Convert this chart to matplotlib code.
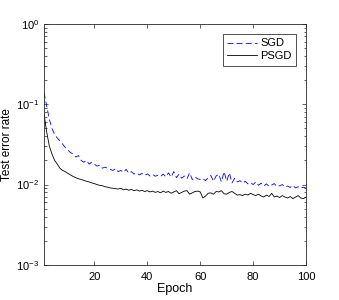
import numpy as np
import matplotlib
matplotlib.use("Agg")
import matplotlib.pyplot as plt
from matplotlib.ticker import LogLocator, FixedLocator

plt.rcParams['font.family'] = ['Liberation Sans', 'DejaVu Sans']
plt.rcParams['mathtext.fontset'] = 'custom'
plt.rcParams['mathtext.rm'] = 'Liberation Sans'
plt.rcParams['mathtext.it'] = 'Liberation Sans:italic'

# test error rate per epoch
epochs = np.arange(1, 101)

sgd = [
    0.140, 0.095, 0.065, 0.050, 0.042, 0.038, 0.035, 0.032, 0.029, 0.027,
    0.025, 0.024, 0.022, 0.023, 0.020, 0.019, 0.020, 0.018, 0.019, 0.018,
    0.017, 0.0175, 0.016, 0.0165, 0.016, 0.0155, 0.015, 0.0158, 0.0145, 0.015,
    0.0142, 0.0155, 0.0138, 0.0145, 0.0135, 0.014, 0.0132, 0.0138, 0.0130, 0.0136,
    0.0128, 0.0134, 0.0127, 0.0131, 0.0126, 0.0135, 0.0125, 0.0140, 0.0124, 0.0145,
    0.0122, 0.0135, 0.0120, 0.0128, 0.0118, 0.0140, 0.0115, 0.0125, 0.0118, 0.0116,
    0.0119, 0.0112, 0.0122, 0.0130, 0.0110, 0.0128, 0.0135, 0.0108, 0.0145, 0.0110,
    0.0140, 0.0105, 0.0120, 0.0108, 0.0112, 0.0104, 0.0110, 0.0102, 0.0106, 0.0100,
    0.0108, 0.0098, 0.0104, 0.0096, 0.0102, 0.0095, 0.0099, 0.0103, 0.0094, 0.0097,
    0.0100, 0.0093, 0.0096, 0.0092, 0.0098, 0.0091, 0.0094, 0.0090, 0.0093, 0.0090,
]

psgd = [
    0.075, 0.045, 0.030, 0.024, 0.020, 0.018, 0.016, 0.015, 0.0145, 0.0138,
    0.0132, 0.0126, 0.0122, 0.0118, 0.0116, 0.0113, 0.0110, 0.0108, 0.0105, 0.0103,
    0.0100, 0.0098, 0.0097, 0.0094, 0.0093, 0.0091, 0.0090, 0.0089, 0.0088, 0.0090,
    0.0086, 0.0088, 0.0085, 0.0087, 0.0084, 0.0086, 0.0083, 0.0085, 0.0082, 0.0084,
    0.0081, 0.0083, 0.0080, 0.0082, 0.0079, 0.0083, 0.0080, 0.0082, 0.0078, 0.0081,
    0.0084, 0.0077, 0.0080, 0.0083, 0.0084, 0.0076, 0.0079, 0.0082, 0.0083, 0.0081,
    0.0068, 0.0072, 0.0078, 0.0079, 0.0076, 0.0082, 0.0081, 0.0084, 0.0077, 0.0076,
    0.0080, 0.0082, 0.0078, 0.0074, 0.0075, 0.0073, 0.0076, 0.0074, 0.0078, 0.0075,
    0.0073, 0.0076, 0.0072, 0.0070, 0.0074, 0.0071, 0.0078, 0.0070, 0.0072, 0.0069,
    0.0073, 0.0070, 0.0068, 0.0071, 0.0067, 0.0070, 0.0073, 0.0068, 0.0067, 0.0070,
]

xticks = [20, 40, 60, 80, 100]

fig = plt.figure(figsize=(3.39, 3.0), dpi=100)
ax = fig.add_axes([0.130, 0.117, 0.773, 0.803])

ax.plot(epochs, sgd, color=(0, 0, 1), linestyle=(0, (7, 4)), linewidth=0.6, label='SGD')
ax.plot(epochs, psgd, color='black', linestyle='-', linewidth=0.6, label='PSGD')

ax.set_yscale('log')
ax.set_xlim(1, 100)
ax.set_ylim(1e-3, 1e0)
ax.xaxis.set_major_locator(FixedLocator(xticks))
ax.yaxis.set_major_locator(LogLocator(base=10, numticks=10))
ax.yaxis.set_minor_locator(LogLocator(base=10, subs=np.arange(2, 10), numticks=20))

axis_col = '#262626'
for s in ax.spines.values():
    s.set_color(axis_col)
    s.set_linewidth(0.6)
ax.tick_params(which='both', direction='in', top=True, right=True,
               colors=axis_col, labelsize=8, width=0.5)
ax.tick_params(which='major', length=3)
ax.tick_params(which='minor', length=1.8)
ax.tick_params(axis='x', pad=5)
for lbl in ax.get_xticklabels() + ax.get_yticklabels():
    lbl.set_color('black')

ax.set_xlabel('Epoch', fontsize=9, labelpad=1)
ax.set_ylabel('Test error rate', fontsize=8.5, labelpad=2)

leg = ax.legend(loc='upper right', fontsize=8, handlelength=2.7, frameon=True,
                fancybox=False, borderpad=0.4, labelspacing=0.25,
                handletextpad=0.3, borderaxespad=0.9)
leg.get_frame().set_edgecolor('black')
leg.get_frame().set_linewidth(0.6)

fig.savefig('out.png', dpi=100)
